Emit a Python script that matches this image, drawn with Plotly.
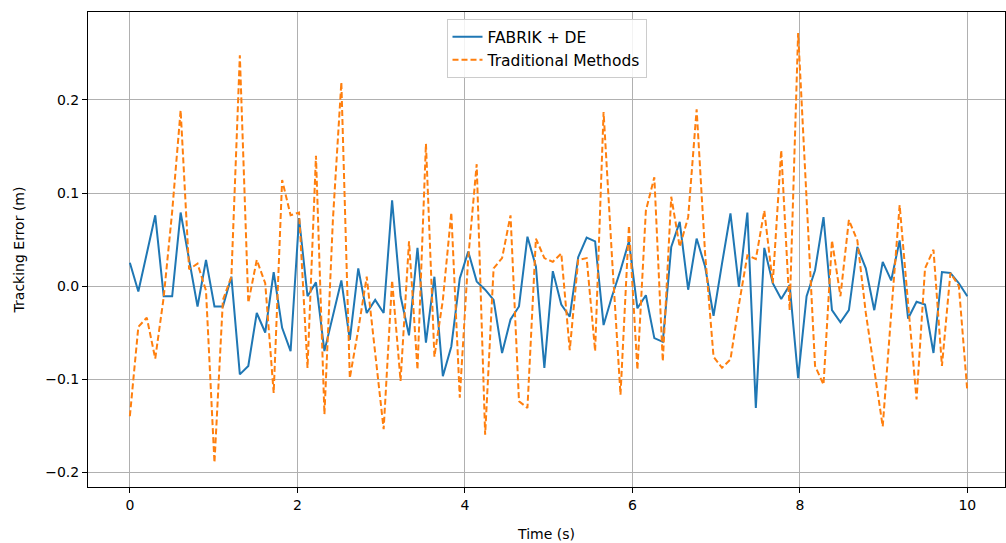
import numpy as np
import plotly.graph_objects as go

time_s = np.linspace(0, 10, 100)

fabrik_de = [
    0.025, -0.006, 0.035, 0.076, -0.011, -0.011, 0.079, 0.03, -0.022, 0.028,
    -0.022, -0.022, 0.01, -0.095, -0.086, -0.029, -0.05, 0.015, -0.045, -0.07,
    0.073, -0.011, 0.004, -0.07, -0.033, 0.006, -0.058, 0.019, -0.029, -0.015,
    -0.029, 0.092, -0.011, -0.053, 0.041, -0.061, 0.01, -0.097, -0.065, 0.008,
    0.037, 0.005, -0.004, -0.015, -0.072, -0.036, -0.022, 0.053, 0.021, -0.088,
    0.016, -0.02, -0.033, 0.031, 0.052, 0.048, -0.042, -0.011, 0.017, 0.048,
    -0.024, -0.01, -0.056, -0.06, 0.042, 0.069, -0.004, 0.051, 0.021, -0.032,
    0.024, 0.078, -0.001, 0.079, -0.131, 0.041, 0.003, -0.014, 0.001, -0.099,
    -0.011, 0.017, 0.074, -0.026, -0.039, -0.026, 0.042, 0.019, -0.026, 0.026,
    0.006, 0.049, -0.035, -0.017, -0.02, -0.072, 0.015, 0.014, 0.003, -0.011,
]

traditional = [
    -0.14, -0.044, -0.034, -0.078, -0.012, 0.08, 0.189, 0.018, 0.024, -0.005,
    -0.19, -0.015, 0.01, 0.248, -0.018, 0.028, 0.003, -0.115, 0.114, 0.076,
    0.079, -0.088, 0.14, -0.138, 0.071, 0.219, -0.099, -0.047, 0.01, -0.07,
    -0.154, 0.006, -0.102, 0.048, -0.09, 0.153, -0.076, -0.015, 0.079, -0.12,
    0.03, 0.131, -0.16, 0.019, 0.03, 0.076, -0.124, -0.131, 0.051, 0.03,
    0.026, 0.035, -0.069, 0.028, 0.03, -0.07, 0.187, 0.03, -0.117, 0.065,
    -0.09, 0.081, 0.117, -0.081, 0.096, 0.042, 0.074, 0.19, 0.035, -0.076,
    -0.088, -0.079, -0.02, 0.033, 0.029, 0.081, 0.003, 0.146, -0.026, 0.272,
    0.1, -0.086, -0.106, 0.049, -0.011, 0.071, 0.049, -0.029, -0.09, -0.151,
    -0.03, 0.087, -0.019, -0.122, 0.019, 0.039, -0.086, 0.014, 0.0, -0.113,
]

x_ticks = [0, 2, 4, 6, 8, 10]
y_ticks = [-0.2, -0.1, 0.0, 0.1, 0.2]

fig = go.Figure()
fig.add_trace(go.Scatter(x=time_s, y=fabrik_de, mode="lines", name="FABRIK + DE",
                         line=dict(color="#1f77b4", width=2)))
fig.add_trace(go.Scatter(x=time_s, y=traditional, mode="lines", name="Traditional Methods",
                         line=dict(color="#ff7f0e", width=2, dash="6px,3px")))

axis_common = dict(showgrid=True, gridcolor="#b0b0b0", gridwidth=1,
                   showline=True, linecolor="black", linewidth=1, mirror=True,
                   ticks="outside", ticklen=5, tickcolor="black", zeroline=False,
                   automargin=False,
                   tickfont=dict(size=14, color="black"))

fig.update_layout(
    width=1006, height=543,
    margin=dict(l=88, r=1, t=12, b=56),
    paper_bgcolor="white", plot_bgcolor="white",
    font=dict(family="DejaVu Sans", size=14, color="black"),
    showlegend=True,
    legend=dict(x=0.5, xanchor="center", y=0.985, yanchor="top",
                bgcolor="rgba(255,255,255,0.85)", bordercolor="#cccccc", borderwidth=1,
                font=dict(size=15.5), tracegroupgap=4),
    xaxis=dict(range=[-0.5, 10.45], tickvals=x_ticks,
               title=dict(text="Time (s)", font=dict(size=14), standoff=17), **axis_common),
    yaxis=dict(range=[-0.2161, 0.2946], tickvals=y_ticks, tickformat=".1f",
               title=dict(text="Tracking Error (m)", font=dict(size=14), standoff=17), **axis_common),
)

fig.write_html(
    "out.html",
    config={"displayModeBar": False},
    post_script="document.body.style.margin='0';document.documentElement.style.overflow='hidden';",
)
